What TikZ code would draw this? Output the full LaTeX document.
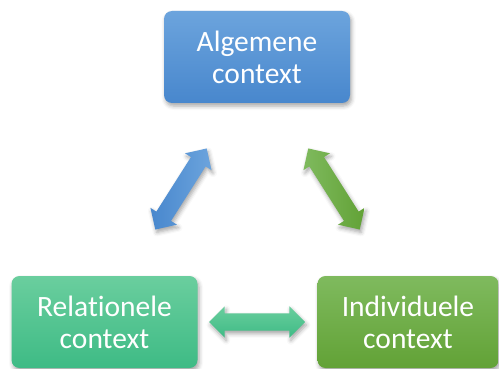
\documentclass[tikz,border=0pt]{standalone}
\usepackage{fontspec}
\setmainfont{Carlito}[Ligatures=NoCommon]
\usetikzlibrary{shapes.arrows,shadows.blur}

\definecolor{algTop}{HTML}{6CA4DD}
\definecolor{algBot}{HTML}{4887CD}
\definecolor{relTop}{HTML}{6ACE9E}
\definecolor{relBot}{HTML}{3EBB85}
\definecolor{indTop}{HTML}{7FBA5E}
\definecolor{indBot}{HTML}{62A236}

\begin{document}
\begin{tikzpicture}[x=1pt,y=-1pt,
    box/.style={rounded corners=8pt, minimum width=186pt, minimum height=92pt,
      align=center, text=white, font=\fontsize{29.5}{32}\selectfont,
      blur shadow={shadow xshift=1.5pt, shadow yshift=-3pt, shadow opacity=35, shadow blur radius=4pt}},
    link/.style={double arrow, double arrow head extend=7pt, double arrow tip angle=90,
      inner sep=0pt, inner ysep=8.5pt, minimum height=96pt,
      blur shadow={shadow xshift=1.5pt, shadow yshift=-3pt, shadow opacity=35, shadow blur radius=4pt}}]
  \useasboundingbox (0,0) rectangle (499,369);

  % de drie contexten
  \node[box, top color=algTop, bottom color=algBot] (alg) at (257,57) {Algemene\\context};
  \node[box, top color=relTop, bottom color=relBot] (rel) at (104.5,322) {Relationele\\context};
  \node[box, top color=indTop, bottom color=indBot, minimum width=181pt] (ind) at (408,322) {Individuele\\context};

  % pijlen ertussen
  \node[link, rotate=57.6, left color=algBot, right color=algTop] (ar) at (181,189) {};
  \node[link, rotate=-57.6, left color=indTop, right color=indBot] (ai) at (334,189) {};
  \node[link, top color=relTop, bottom color=relBot] (ri) at (257,322) {};
\end{tikzpicture}
\end{document}
